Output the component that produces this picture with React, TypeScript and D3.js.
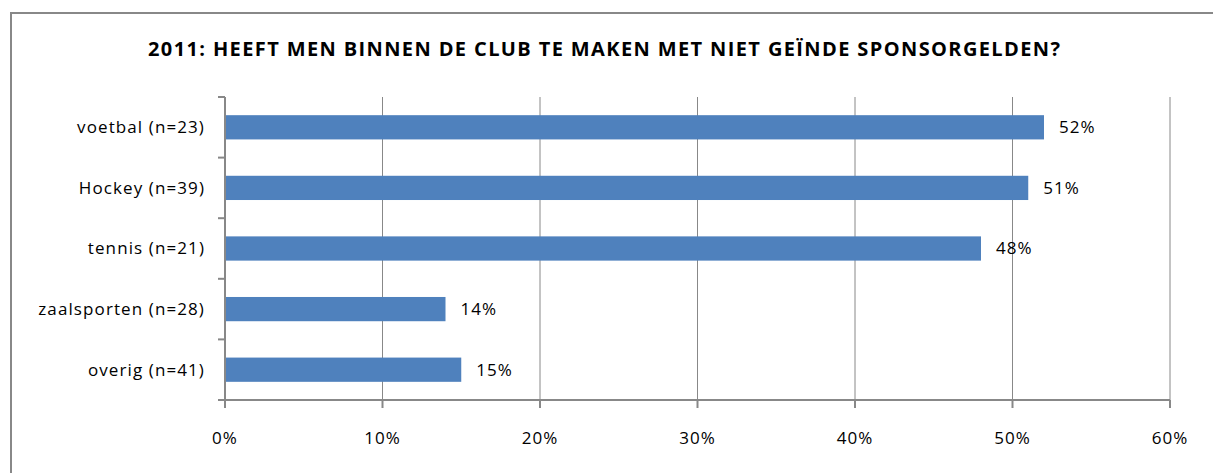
import * as React from 'react';
import * as d3 from 'd3';

const title = '2011: HEEFT MEN BINNEN DE CLUB TE MAKEN MET NIET GEÏNDE SPONSORGELDEN?';
const categories = ['voetbal (n=23)', 'Hockey (n=39)', 'tennis (n=21)', 'zaalsporten (n=28)', 'overig (n=41)'];
const values = [52, 51, 48, 14, 15];
const xTicks = [0, 10, 20, 30, 40, 50, 60];

const width = 1213;
const height = 473;
const margin = { left: 225, right: 43, top: 97, bottom: 73 };
const font = "'Open Sans', 'Liberation Sans', sans-serif";

export default function App() {
  const axisRef = React.useRef() as React.MutableRefObject<any>;

  const x = d3.scaleLinear()
    .domain([0, 60])
    .range([margin.left, width - margin.right]);

  const y = d3.scaleBand<string>()
    .domain(categories)
    .range([margin.top, height - margin.bottom])
    .paddingInner(0.6)
    .paddingOuter(0.3);

  const step = y.step();

  React.useEffect(() => {
    const g = d3.select(axisRef.current);
    g.selectAll('*').remove();

    // vertical grid lines
    g.selectAll('line.grid')
      .data(xTicks.slice(1))
      .enter()
      .append('line')
      .attr('x1', (d) => x(d))
      .attr('x2', (d) => x(d))
      .attr('y1', margin.top)
      .attr('y2', height - margin.bottom)
      .attr('stroke', '#888')
      .attr('stroke-width', 1);

    // bars
    g.selectAll('rect.bar')
      .data(values)
      .enter()
      .append('rect')
      .attr('x', x(0))
      .attr('y', (_, i) => y(categories[i])!)
      .attr('width', (d) => x(d) - x(0))
      .attr('height', y.bandwidth())
      .attr('fill', '#4F81BD');

    // value labels
    g.selectAll('text.val')
      .data(values)
      .enter()
      .append('text')
      .attr('x', (d) => x(d) + 15)
      .attr('y', (_, i) => y(categories[i])! + y.bandwidth() / 2)
      .attr('dy', '0.35em')
      .attr('font-family', font)
      .attr('font-size', 17)
      .attr('letter-spacing', 1)
      .attr('fill', '#000')
      .text((d) => d + '%');

    // y axis line and ticks
    const yBottom = height - margin.bottom;
    g.append('line')
      .attr('x1', x(0)).attr('x2', x(0))
      .attr('y1', margin.top).attr('y2', yBottom + 8)
      .attr('stroke', '#888').attr('stroke-width', 2);
    g.selectAll('line.ytick')
      .data(d3.range(categories.length + 1))
      .enter()
      .append('line')
      .attr('x1', x(0) - 7).attr('x2', x(0))
      .attr('y1', (i) => margin.top + i * step)
      .attr('y2', (i) => margin.top + i * step)
      .attr('stroke', '#888').attr('stroke-width', 2);

    // x axis line and ticks
    g.append('line')
      .attr('x1', x(0) - 7).attr('x2', x(60))
      .attr('y1', yBottom).attr('y2', yBottom)
      .attr('stroke', '#888').attr('stroke-width', 2);
    g.selectAll('line.xtick')
      .data(xTicks)
      .enter()
      .append('line')
      .attr('x1', (d) => x(d)).attr('x2', (d) => x(d))
      .attr('y1', yBottom).attr('y2', yBottom + 8)
      .attr('stroke', '#888').attr('stroke-width', 2);

    g.selectAll('text.xlab')
      .data(xTicks)
      .enter()
      .append('text')
      .attr('x', (d) => x(d))
      .attr('y', yBottom + 44)
      .attr('text-anchor', 'middle')
      .attr('font-family', font)
      .attr('font-size', 17)
      .attr('letter-spacing', 1)
      .text((d) => d + '%');

    // category labels
    g.selectAll('text.cat')
      .data(categories)
      .enter()
      .append('text')
      .attr('x', x(0) - 20)
      .attr('y', (d) => y(d)! + y.bandwidth() / 2)
      .attr('dy', '0.35em')
      .attr('text-anchor', 'end')
      .attr('font-family', font)
      .attr('font-size', 17)
      .attr('letter-spacing', 1.1)
      .text((d) => d);
  }, []);

  return (
    <svg width={width} height={height} style={{ position: 'absolute', left: 0, top: 0 }}>
      <rect x={0} y={0} width={width} height={height} fill="#fff" />
      <rect x={11} y={13} width={width} height={height} fill="none" stroke="#888" strokeWidth={2} />
      <text x={604} y={56} textAnchor="middle" fontFamily={font} fontSize={20} fontWeight="bold"
        textLength={912} lengthAdjust="spacing">
        {title}
      </text>
      <g ref={axisRef}></g>
    </svg>
  );
}
